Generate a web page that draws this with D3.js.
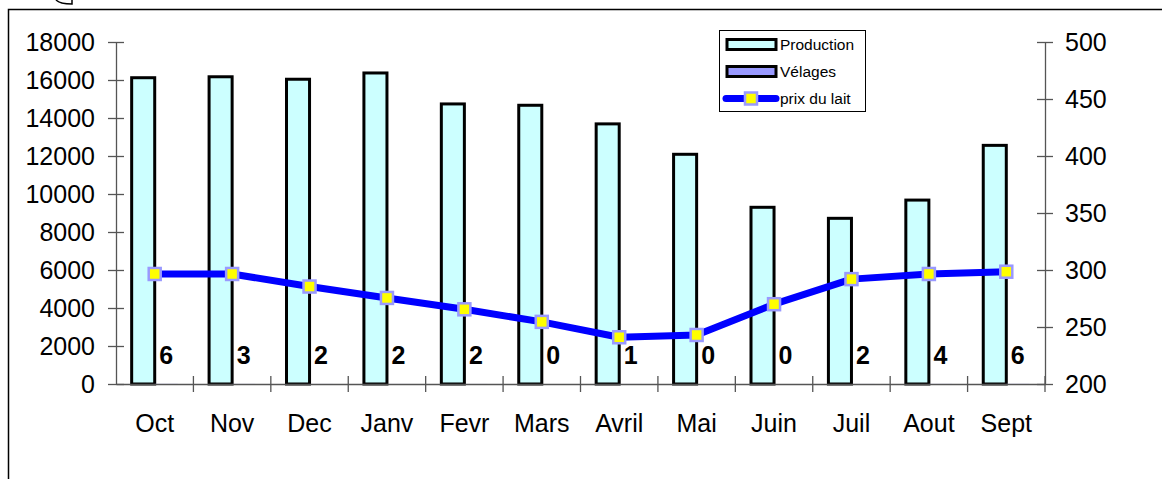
<!DOCTYPE html>
<html>
<head>
<meta charset="utf-8">
<script src="https://cdn.jsdelivr.net/npm/d3@7"></script>
<style>
  body { margin: 0; background: #fff; }
  svg { display: block; font-family: "Liberation Sans", Arial, sans-serif; }
  .axis path { stroke: #555; stroke-width: 1.3; }
  .axis line { stroke: #555; stroke-width: 1.3; }
  .axis text { fill: #000; font-size: 25px; }
</style>
</head>
<body>
<svg id="chart" width="1162" height="479"></svg>
<script>
// data
var months = ["Oct", "Nov", "Dec", "Janv", "Fevr", "Mars", "Avril", "Mai", "Juin", "Juil", "Aout", "Sept"];
var production = [16120, 16170, 16040, 16370, 14740, 14670, 13690, 12090, 9300, 8720, 9680, 12560];
var velages = [6, 3, 2, 2, 2, 0, 1, 0, 0, 2, 4, 6];
var prixLait = [296.5, 296.5, 285.5, 275.5, 265.5, 254.5, 241, 243, 270, 292, 296.5, 298.5];
var leftTicks = [0, 2000, 4000, 6000, 8000, 10000, 12000, 14000, 16000, 18000];
var rightTicks = [200, 250, 300, 350, 400, 450, 500];
var seriesNames = ["Production", "Vélages", "prix du lait"];

var svg = d3.select("#chart");

// outer frame (runs off the right and bottom of the shot)
svg.append("rect")
  .attr("x", 8.5).attr("y", 9.5)
  .attr("width", 1200).attr("height", 520)
  .attr("fill", "#fff")
  .attr("stroke", "#000")
  .attr("stroke-width", 1.5);

// little cut off mark above the frame
svg.append("path")
  .attr("d", "M56,0 Q60,4 72,4 L72,0")
  .attr("fill", "none")
  .attr("stroke", "#000")
  .attr("stroke-width", 1.5);

var plotL = 116, plotR = 1045, plotT = 42, plotB = 384;

var x0 = d3.scaleBand().domain(months).range([plotL, plotR]).padding(0);
var x1 = d3.scaleBand().domain(["Production", "Vélages"])
  .range([0, x0.bandwidth()]).paddingInner(0).paddingOuter(0.68);
var yL = d3.scaleLinear().domain([0, 18000]).range([plotB, plotT]);
var yR = d3.scaleLinear().domain([200, 500]).range([plotB, plotT]);

// left axis
var gL = svg.append("g").attr("class", "axis")
  .attr("transform", "translate(" + plotL + ",0)")
  .call(d3.axisLeft(yL).tickValues(leftTicks).tickFormat(d3.format("d"))
    .tickSize(8).tickPadding(13).tickSizeOuter(0));
gL.selectAll(".tick line").attr("x1", -8).attr("x2", 8);

// right axis
var gR = svg.append("g").attr("class", "axis")
  .attr("transform", "translate(" + plotR + ",0)")
  .call(d3.axisRight(yR).tickValues(rightTicks).tickFormat(d3.format("d"))
    .tickSize(8).tickPadding(12).tickSizeOuter(0));
gR.selectAll(".tick line").attr("x1", -8).attr("x2", 8);

// bars
var groups = svg.append("g").selectAll("g")
  .data(months)
  .enter().append("g")
  .attr("transform", function(d){ return "translate(" + x0(d) + ",0)"; });

groups.append("rect")
  .attr("x", x1("Production"))
  .attr("y", function(d, i){ return yL(production[i]); })
  .attr("width", x1.bandwidth())
  .attr("height", function(d, i){ return yL(0) - yL(production[i]); })
  .attr("fill", "#ccffff")
  .attr("stroke", "#000")
  .attr("stroke-width", 3);

groups.append("rect")
  .attr("x", x1("Vélages"))
  .attr("y", function(d, i){ return yL(velages[i]); })
  .attr("width", x1.bandwidth())
  .attr("height", function(d, i){ return yL(0) - yL(velages[i]); })
  .attr("fill", "#9999ff");

groups.append("text")
  .attr("x", x1("Vélages") + x1.bandwidth() / 2)
  .attr("y", 364)
  .attr("text-anchor", "middle")
  .attr("font-size", "25px")
  .attr("font-weight", "bold")
  .text(function(d, i){ return velages[i]; });

// bottom axis: line, ticks at band edges, labels at centres
var gB = svg.append("g").attr("class", "axis")
  .attr("transform", "translate(0," + plotB + ")")
  .call(d3.axisBottom(x0).tickSize(0).tickPadding(30).tickSizeOuter(0));
gB.selectAll(".tick line").remove();
gB.selectAll(".edge")
  .data(months)
  .enter().append("line")
  .attr("class", "edge")
  .attr("x1", function(d){ return x0(d) + x0.bandwidth(); })
  .attr("x2", function(d){ return x0(d) + x0.bandwidth(); })
  .attr("y1", -8).attr("y2", 8);

// price line
var line = d3.line()
  .x(function(d, i){ return x0(months[i]) + x0.bandwidth() / 2; })
  .y(function(d){ return yR(d); });

svg.append("path")
  .datum(prixLait)
  .attr("d", line)
  .attr("fill", "none")
  .attr("stroke", "#0000ff")
  .attr("stroke-width", 7)
  .attr("stroke-linejoin", "round");

svg.append("g").selectAll("rect")
  .data(prixLait)
  .enter().append("rect")
  .attr("x", function(d, i){ return x0(months[i]) + x0.bandwidth() / 2 - 6; })
  .attr("y", function(d){ return yR(d) - 6; })
  .attr("width", 12).attr("height", 12)
  .attr("fill", "#ffff00")
  .attr("stroke", "#9999ff")
  .attr("stroke-width", 2.5);

// legend
var legend = svg.append("g");
legend.append("rect")
  .attr("x", 719.5).attr("y", 30.5)
  .attr("width", 146).attr("height", 81)
  .attr("fill", "#fff").attr("stroke", "#000").attr("stroke-width", 1);

var rowY = [44.5, 71.5, 98.5];
legend.append("rect")
  .attr("x", 727).attr("y", rowY[0] - 5)
  .attr("width", 49).attr("height", 10)
  .attr("fill", "#ccffff").attr("stroke", "#000").attr("stroke-width", 3);
legend.append("rect")
  .attr("x", 727).attr("y", rowY[1] - 5)
  .attr("width", 49).attr("height", 10)
  .attr("fill", "#9999ff").attr("stroke", "#000").attr("stroke-width", 3);
legend.append("line")
  .attr("x1", 726).attr("x2", 776)
  .attr("y1", rowY[2]).attr("y2", rowY[2])
  .attr("stroke", "#0000ff").attr("stroke-width", 7).attr("stroke-linecap", "round");
legend.append("rect")
  .attr("x", 745).attr("y", rowY[2] - 6)
  .attr("width", 12).attr("height", 12)
  .attr("fill", "#ffff00").attr("stroke", "#9999ff").attr("stroke-width", 2.5);

legend.selectAll("text")
  .data(seriesNames)
  .enter().append("text")
  .attr("x", 780)
  .attr("y", function(d, i){ return rowY[i] + 5.5; })
  .attr("font-size", "15.5px")
  .text(function(d){ return d; });
</script>
</body>
</html>
